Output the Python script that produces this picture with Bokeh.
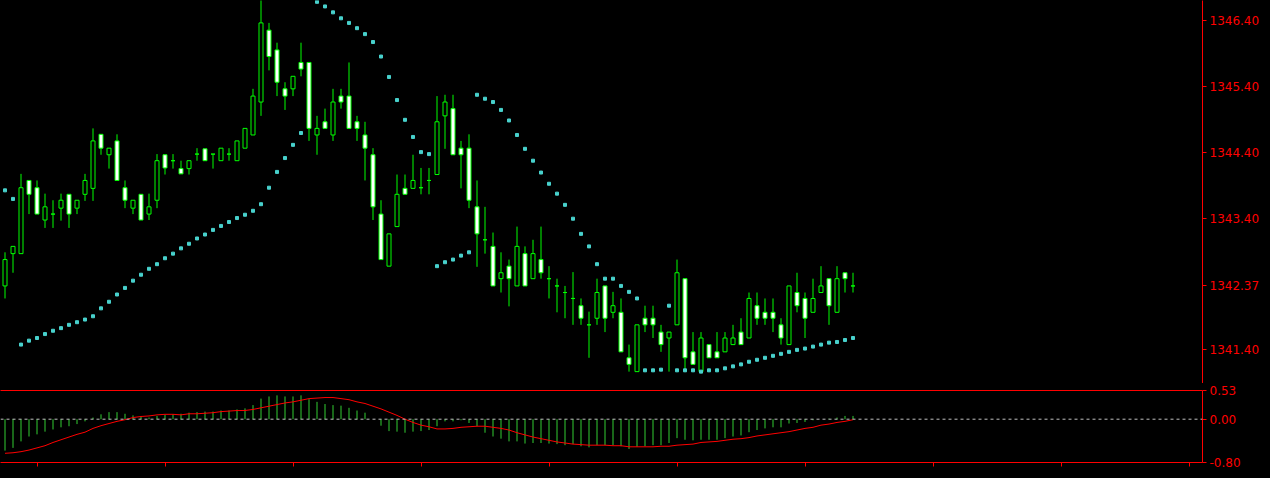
from bokeh.plotting import figure
from bokeh.layouts import column
from bokeh.models import (Range1d, FixedTicker, LinearAxis, Span, ColumnDataSource,
                          NumeralTickFormatter, CustomJSTickFormatter, GlobalInlineStyleSheet)
from bokeh.embed import file_html
from bokeh.resources import INLINE

# ---------------- data ----------------
open_ = [
    1342.37, 1342.86, 1342.86, 1343.97, 1343.86, 1343.37, 1343.46, 1343.55, 1343.76, 1343.55,
    1343.76, 1343.85, 1344.67, 1344.36, 1344.57, 1343.86, 1343.55, 1343.76, 1343.46, 1343.67,
    1344.36, 1344.27, 1344.15, 1344.15, 1344.37, 1344.45, 1344.37, 1344.27, 1344.37, 1344.27,
    1344.46, 1344.66, 1345.16, 1346.25, 1345.95, 1345.36, 1345.36, 1345.76, 1345.76, 1344.66,
    1344.86, 1344.66, 1345.25, 1345.25, 1344.86, 1344.66, 1344.36, 1343.46, 1342.67, 1343.27,
    1343.85, 1343.85, 1343.86, 1343.97, 1344.06, 1344.95, 1345.06, 1344.46, 1344.46, 1343.57,
    1343.07, 1342.97, 1342.48, 1342.67, 1342.37, 1342.86, 1342.48, 1342.77, 1342.48, 1342.37,
    1342.27, 1342.18, 1342.07, 1341.78, 1341.88, 1342.37, 1341.97, 1341.97, 1341.28, 1341.07,
    1341.88, 1341.88, 1341.67, 1341.58, 1341.78, 1342.48, 1341.37, 1341.07, 1341.48, 1341.37,
    1341.37, 1341.48, 1341.67, 1341.58, 1342.07, 1341.97, 1341.97, 1341.78, 1341.48, 1342.27,
    1342.18, 1341.97, 1342.27, 1342.48, 1341.97, 1342.57, 1342.37]

high = [
    1342.88, 1342.97, 1344.07, 1343.97, 1343.97, 1343.77, 1343.67, 1343.77, 1343.76, 1343.67,
    1344.07, 1344.76, 1344.67, 1344.46, 1344.67, 1343.97, 1343.67, 1343.76, 1343.77, 1344.37,
    1344.36, 1344.37, 1344.27, 1344.27, 1344.46, 1344.45, 1344.37, 1344.46, 1344.46, 1344.57,
    1344.76, 1345.36, 1346.80, 1346.36, 1346.06, 1345.46, 1345.55, 1346.06, 1345.76, 1344.95,
    1345.06, 1345.36, 1345.36, 1345.76, 1344.95, 1344.86, 1344.46, 1343.67, 1343.16, 1344.06,
    1344.06, 1344.36, 1344.16, 1344.16, 1345.25, 1345.27, 1345.27, 1344.57, 1344.67, 1343.97,
    1343.57, 1343.18, 1342.88, 1342.77, 1343.27, 1342.97, 1343.07, 1343.27, 1342.67, 1342.48,
    1342.37, 1342.58, 1342.18, 1341.98, 1342.48, 1342.37, 1342.28, 1342.18, 1341.48, 1341.78,
    1342.07, 1342.07, 1341.78, 1341.67, 1342.77, 1342.48, 1341.67, 1341.67, 1341.48, 1341.67,
    1341.67, 1341.78, 1341.88, 1342.27, 1342.27, 1342.18, 1342.18, 1341.88, 1342.37, 1342.57,
    1342.27, 1342.48, 1342.67, 1342.48, 1342.67, 1342.57, 1342.57]

low = [
    1342.18, 1342.57, 1342.86, 1343.46, 1343.46, 1343.25, 1343.25, 1343.36, 1343.25, 1343.46,
    1343.66, 1343.66, 1344.36, 1344.15, 1343.97, 1343.55, 1343.46, 1343.37, 1343.37, 1343.55,
    1344.06, 1344.15, 1344.07, 1344.06, 1344.27, 1344.27, 1344.15, 1344.27, 1344.27, 1344.27,
    1344.46, 1344.66, 1344.95, 1345.64, 1345.25, 1345.04, 1345.25, 1345.55, 1344.57, 1344.36,
    1344.76, 1344.57, 1345.06, 1344.76, 1344.57, 1343.97, 1343.37, 1342.77, 1342.67, 1343.27,
    1343.76, 1343.85, 1343.76, 1343.76, 1344.06, 1344.45, 1344.36, 1343.85, 1343.55, 1342.66,
    1342.86, 1342.37, 1342.27, 1342.06, 1342.37, 1342.37, 1342.48, 1342.48, 1342.18, 1341.97,
    1341.88, 1341.78, 1341.78, 1341.28, 1341.78, 1341.67, 1341.88, 1341.37, 1341.07, 1341.07,
    1341.67, 1341.58, 1341.37, 1341.07, 1341.78, 1341.07, 1341.18, 1341.07, 1341.28, 1341.28,
    1341.37, 1341.48, 1341.48, 1341.58, 1341.78, 1341.78, 1341.67, 1341.48, 1341.48, 1341.97,
    1341.58, 1341.97, 1342.27, 1341.78, 1341.97, 1342.27, 1342.27]

close = [
    1342.77, 1342.97, 1343.86, 1343.76, 1343.46, 1343.57, 1343.46, 1343.67, 1343.46, 1343.67,
    1343.97, 1344.57, 1344.46, 1344.46, 1343.97, 1343.67, 1343.67, 1343.37, 1343.57, 1344.27,
    1344.16, 1344.27, 1344.07, 1344.27, 1344.37, 1344.27, 1344.37, 1344.46, 1344.37, 1344.57,
    1344.76, 1345.25, 1346.36, 1345.85, 1345.46, 1345.25, 1345.55, 1345.66, 1344.76, 1344.76,
    1344.76, 1345.16, 1345.16, 1344.76, 1344.76, 1344.46, 1343.57, 1342.77, 1343.16, 1343.76,
    1343.76, 1343.97, 1343.86, 1343.97, 1344.86, 1345.16, 1344.36, 1344.36, 1343.67, 1343.16,
    1343.07, 1342.37, 1342.57, 1342.48, 1342.97, 1342.37, 1342.86, 1342.57, 1342.48, 1342.37,
    1342.27, 1342.18, 1341.88, 1341.78, 1342.27, 1341.88, 1342.07, 1341.37, 1341.18, 1341.78,
    1341.78, 1341.78, 1341.48, 1341.67, 1342.57, 1341.28, 1341.18, 1341.58, 1341.28, 1341.28,
    1341.58, 1341.58, 1341.48, 1342.18, 1341.88, 1341.88, 1341.88, 1341.58, 1342.37, 1342.07,
    1341.88, 1342.18, 1342.37, 1342.07, 1342.48, 1342.48, 1342.37]

sar = [
    1343.82, 1343.69, 1341.48, 1341.54, 1341.58, 1341.64, 1341.69, 1341.73, 1341.78, 1341.82,
    1341.86, 1341.91, 1342.03, 1342.13, 1342.24, 1342.34, 1342.45, 1342.54, 1342.63, 1342.70,
    1342.79, 1342.86, 1342.94, 1343.01, 1343.09, 1343.15, 1343.22, 1343.28, 1343.34, 1343.40,
    1343.45, 1343.51, 1343.61, 1343.86, 1344.10, 1344.31, 1344.51, 1344.69, 1346.80, 1346.68,
    1346.61, 1346.52, 1346.43, 1346.36, 1346.28, 1346.19, 1346.07, 1345.85, 1345.54, 1345.19,
    1344.89, 1344.63, 1344.40, 1344.37, 1342.67, 1342.73, 1342.77, 1342.83, 1342.88, 1345.27,
    1345.21, 1345.16, 1345.04, 1344.88, 1344.66, 1344.45, 1344.27, 1344.09, 1343.92, 1343.77,
    1343.60, 1343.39, 1343.16, 1342.97, 1342.70, 1342.48, 1342.48, 1342.37, 1342.28, 1342.18,
    1341.09, 1341.09, 1341.10, 1342.07, 1341.09, 1341.09, 1341.09, 1341.07, 1341.09, 1341.09,
    1341.12, 1341.15, 1341.18, 1341.22, 1341.25, 1341.28, 1341.31, 1341.34, 1341.37, 1341.40,
    1341.42, 1341.45, 1341.48, 1341.51, 1341.52, 1341.55, 1341.58]

macd_main = [
    -0.58, -0.53, -0.41, -0.32, -0.28, -0.23, -0.19, -0.15, -0.13, -0.09,
    -0.04, 0.03, 0.09, 0.13, 0.13, 0.10, 0.07, 0.05, 0.03, 0.06,
    0.08, 0.09, 0.10, 0.12, 0.13, 0.14, 0.14, 0.16, 0.16, 0.18,
    0.20, 0.26, 0.38, 0.42, 0.44, 0.42, 0.42, 0.44, 0.37, 0.32,
    0.28, 0.26, 0.25, 0.21, 0.16, 0.12, 0.00, -0.12, -0.22, -0.23,
    -0.25, -0.23, -0.22, -0.20, -0.13, -0.04, -0.04, -0.02, -0.07, -0.13,
    -0.25, -0.32, -0.36, -0.41, -0.41, -0.45, -0.44, -0.44, -0.45, -0.46,
    -0.48, -0.46, -0.50, -0.52, -0.48, -0.48, -0.48, -0.50, -0.55, -0.51,
    -0.50, -0.48, -0.48, -0.44, -0.35, -0.38, -0.39, -0.38, -0.38, -0.38,
    -0.35, -0.32, -0.30, -0.24, -0.20, -0.17, -0.15, -0.15, -0.08, -0.07,
    -0.05, -0.02, 0.00, 0.01, 0.03, 0.06, 0.06]

macd_signal = [
    -0.63, -0.62, -0.60, -0.57, -0.53, -0.49, -0.43, -0.38, -0.33, -0.28,
    -0.24, -0.17, -0.12, -0.08, -0.04, -0.01, 0.03, 0.05, 0.06, 0.08,
    0.09, 0.09, 0.08, 0.10, 0.10, 0.11, 0.12, 0.14, 0.15, 0.16,
    0.16, 0.18, 0.21, 0.24, 0.27, 0.30, 0.32, 0.35, 0.38, 0.39,
    0.40, 0.40, 0.38, 0.36, 0.32, 0.29, 0.24, 0.19, 0.13, 0.07,
    0.00, -0.06, -0.11, -0.14, -0.18, -0.18, -0.17, -0.15, -0.14, -0.13,
    -0.13, -0.15, -0.17, -0.20, -0.25, -0.29, -0.33, -0.36, -0.39, -0.42,
    -0.44, -0.46, -0.47, -0.48, -0.48, -0.48, -0.49, -0.49, -0.51, -0.51,
    -0.51, -0.51, -0.50, -0.50, -0.48, -0.47, -0.46, -0.43, -0.42, -0.41,
    -0.39, -0.37, -0.36, -0.34, -0.31, -0.29, -0.27, -0.25, -0.23, -0.20,
    -0.17, -0.15, -0.11, -0.09, -0.06, -0.04, -0.01]

price_ticks = [1346.40, 1345.40, 1344.40, 1343.40, 1341.40]
macd_ticks = [0.53, 0.00, -0.80]
time_ticks = [4, 20, 36, 52, 68, 84, 100, 116, 132, 148]

# ---------------- derived ----------------
n = min(len(open_), len(high), len(low), len(close))
bars = list(range(n))
body_top = [max(open_[i], close[i]) for i in range(n)]
body_bot = [min(open_[i], close[i]) for i in range(n)]
body_fill = ["white" if close[i] < open_[i] else "black" for i in range(n)]

CANDLE = "#00FF00"
AXIS = "#FF0000"
FONT = "DejaVu Sans"
W = 1262
RB = 60
BAR_PX = 8.0                       # chart zoom: 8 screen pixels per bar
FRAME_W = W - RB
x0 = -0.5 - 0.5 / BAR_PX           # half-pixel shift so 1px lines are crisp
xr = Range1d(x0, x0 + FRAME_W / BAR_PX)


def style_right_axis(ax, ticks):
    ax.ticker = FixedTicker(ticks=ticks)
    ax.formatter = NumeralTickFormatter(format="0.00")
    ax.axis_line_color = AXIS
    ax.major_tick_line_color = AXIS
    ax.major_tick_out = 4
    ax.major_tick_in = 0
    ax.minor_tick_out = 0
    ax.minor_tick_in = 0
    ax.major_label_text_color = AXIS
    ax.major_label_text_font = FONT
    ax.major_label_text_font_size = "12px"
    ax.major_label_standoff = 3


def line_axis():
    return LinearAxis(ticker=FixedTicker(ticks=[]), axis_line_color=AXIS,
                      major_tick_out=0, major_tick_in=0, minor_tick_out=0, minor_tick_in=0,
                      major_label_standoff=0)


# ---------------- main price panel ----------------
p1 = figure(width=W, height=383, x_range=xr, y_range=Range1d(1340.89, 1346.70),
            output_backend="svg", toolbar_location=None, y_axis_location="right",
            x_axis_location=None, background_fill_color="black",
            border_fill_color="black", outline_line_color=None,
            min_border_left=0, min_border_top=0, min_border_bottom=0, min_border_right=RB)
p1.grid.visible = False
# price scale plus the current (last close) price marker
style_right_axis(p1.yaxis[0], price_ticks + [close[n - 1]])
p1.add_layout(line_axis(), "below")

src = ColumnDataSource(dict(x=bars, o=open_[:n], h=high[:n], l=low[:n], c=close[:n],
                            top=body_top, bot=body_bot, fill=body_fill))
p1.segment(x0="x", y0="l", x1="x", y1="h", line_color=CANDLE, line_width=1, source=src)
p1.vbar(x="x", width=0.5, top="top", bottom="bot", fill_color="fill",
        line_color=CANDLE, line_width=1, source=src)
p1.scatter(bars, sar[:n], marker="square", size=3, color="#48D1CC")

# ---------------- MACD panel ----------------
p2 = figure(width=W, height=87, x_range=xr, y_range=Range1d(-0.80, 0.53),
            output_backend="svg", toolbar_location=None, y_axis_location="right",
            x_axis_location=None, background_fill_color="black",
            border_fill_color="black", outline_line_color=None,
            min_border_left=0, min_border_top=7, min_border_bottom=8, min_border_right=RB)
p2.grid.visible = False
style_right_axis(p2.yaxis[0], macd_ticks)
p2.add_layout(line_axis(), "above")

tx = LinearAxis(ticker=FixedTicker(ticks=time_ticks),
                formatter=CustomJSTickFormatter(code="return ''"),
                axis_line_color=AXIS, major_tick_line_color=AXIS,
                major_tick_out=4, major_tick_in=0, minor_tick_out=0, minor_tick_in=0,
                major_label_standoff=0)
p2.add_layout(tx, "below")

p2.segment(x0=bars, y0=[0] * n, x1=bars, y1=macd_main[:n], line_color="#32CD32", line_width=1)
p2.add_layout(Span(location=0, dimension="width", line_color="#C0C0C0",
                   line_dash="3 3", line_width=1))
p2.line(bars, macd_signal[:n], line_color="#FF0000", line_width=1)

layout = column(p1, p2, spacing=0)
layout.stylesheets = [GlobalInlineStyleSheet(css="body { background-color: #000000; }")]

open("out.html", "w").write(file_html(layout, INLINE))
